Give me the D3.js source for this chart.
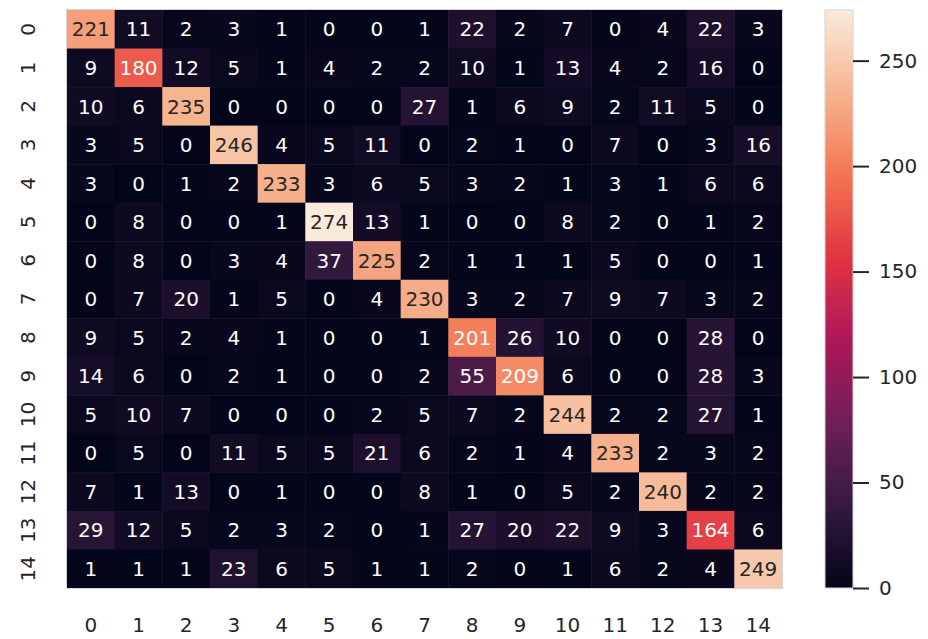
<!DOCTYPE html>
<html>
<head>
<meta charset="utf-8">
<script src="https://cdn.jsdelivr.net/npm/d3@7"></script>
<style>
  body { margin: 0; background: #fff; }
  svg { display: block; font-family: "DejaVu Sans", sans-serif; }
</style>
</head>
<body>
<svg id="chart" width="928" height="639"></svg>
<script>
// Class labels (rows = true, columns = predicted).
var labels = ["0","1","2","3","4","5","6","7","8","9","10","11","12","13","14"];

// Confusion matrix counts, one array per row.
var row0  = [221, 11, 2, 3, 1, 0, 0, 1, 22, 2, 7, 0, 4, 22, 3];
var row1  = [9, 180, 12, 5, 1, 4, 2, 2, 10, 1, 13, 4, 2, 16, 0];
var row2  = [10, 6, 235, 0, 0, 0, 0, 27, 1, 6, 9, 2, 11, 5, 0];
var row3  = [3, 5, 0, 246, 4, 5, 11, 0, 2, 1, 0, 7, 0, 3, 16];
var row4  = [3, 0, 1, 2, 233, 3, 6, 5, 3, 2, 1, 3, 1, 6, 6];
var row5  = [0, 8, 0, 0, 1, 274, 13, 1, 0, 0, 8, 2, 0, 1, 2];
var row6  = [0, 8, 0, 3, 4, 37, 225, 2, 1, 1, 1, 5, 0, 0, 1];
var row7  = [0, 7, 20, 1, 5, 0, 4, 230, 3, 2, 7, 9, 7, 3, 2];
var row8  = [9, 5, 2, 4, 1, 0, 0, 1, 201, 26, 10, 0, 0, 28, 0];
var row9  = [14, 6, 0, 2, 1, 0, 0, 2, 55, 209, 6, 0, 0, 28, 3];
var row10 = [5, 10, 7, 0, 0, 0, 2, 5, 7, 2, 244, 2, 2, 27, 1];
var row11 = [0, 5, 0, 11, 5, 5, 21, 6, 2, 1, 4, 233, 2, 3, 2];
var row12 = [7, 1, 13, 0, 1, 0, 0, 8, 1, 0, 5, 2, 240, 2, 2];
var row13 = [29, 12, 5, 2, 3, 2, 0, 1, 27, 20, 22, 9, 3, 164, 6];
var row14 = [1, 1, 1, 23, 6, 5, 1, 1, 2, 0, 1, 6, 2, 4, 249];

var colorbarTicks = [0, 50, 100, 150, 200, 250];

var matrix = [row0, row1, row2, row3, row4, row5, row6, row7,
              row8, row9, row10, row11, row12, row13, row14];

const svg = d3.select("#chart");

// Layout.
const mLeft = 67, mRight = 782, mTop = 10, mBottom = 588;
const cbLeft = 825, cbRight = 853;
const textDark = "#262626";

const cells = [];
matrix.forEach(function(row, i) {
  row.forEach(function(v, j) {
    cells.push({ r: labels[i], c: labels[j], v: v });
  });
});

const vmax = d3.max(cells, d => d.v);

// Scales.
const x = d3.scaleBand().domain(labels).range([mLeft, mRight]);
const y = d3.scaleBand().domain(labels).range([mTop, mBottom]);

// Approximation of seaborn "rocket".
const rocketStops = ["#03051a", "#35193e", "#701f57", "#ad1759",
                     "#e13342", "#f37651", "#f6b48f", "#faebdd"];
const rocket = d3.scaleLinear()
  .domain(rocketStops.map((d, i) => i / (rocketStops.length - 1)))
  .range(rocketStops)
  .interpolate(d3.interpolateRgb);
const color = v => rocket(v / vmax);

// Same rule seaborn uses to pick annotation colour.
function luminance(c) {
  const rgb = d3.rgb(c);
  const lin = [rgb.r, rgb.g, rgb.b].map(function(u) {
    u = u / 255;
    return u <= 0.03928 ? u / 12.92 : Math.pow((u + 0.055) / 1.055, 2.4);
  });
  return 0.2126 * lin[0] + 0.7152 * lin[1] + 0.0722 * lin[2];
}

// Cells.
svg.append("g")
  .selectAll("rect")
  .data(cells)
  .join("rect")
    .attr("x", d => x(d.c))
    .attr("y", d => y(d.r))
    .attr("width", x.bandwidth() + 0.5)
    .attr("height", y.bandwidth() + 0.5)
    .attr("fill", d => color(d.v));

svg.append("rect")
  .attr("x", mLeft - 0.5).attr("y", mTop - 0.5)
  .attr("width", mRight - mLeft + 1).attr("height", mBottom - mTop + 1)
  .attr("fill", "none")
  .attr("stroke", "#d4d4d8")
  .attr("stroke-width", 1);

// Annotations.
svg.append("g")
  .selectAll("text")
  .data(cells)
  .join("text")
    .attr("x", d => x(d.c) + x.bandwidth() / 2)
    .attr("y", d => y(d.r) + y.bandwidth() / 2)
    .attr("dy", "0.36em")
    .attr("text-anchor", "middle")
    .attr("font-size", 20)
    .attr("fill", d => luminance(color(d.v)) > 0.408 ? textDark : "#ffffff")
    .text(d => d.v);

// Axes.
const xAxis = svg.append("g")
  .attr("transform", "translate(0," + mBottom + ")")
  .call(d3.axisBottom(x).tickSize(0).tickPadding(30));
xAxis.select(".domain").remove();
xAxis.selectAll("text")
  .attr("font-size", 20)
  .attr("font-family", "DejaVu Sans")
  .attr("fill", textDark);

const yAxis = svg.append("g")
  .attr("transform", "translate(" + mLeft + ",0)")
  .call(d3.axisLeft(y).tickSize(0));
yAxis.select(".domain").remove();
yAxis.selectAll("text")
  .attr("x", null)
  .attr("dy", "0.36em")
  .attr("text-anchor", "middle")
  .attr("transform", "translate(" + (28 - mLeft) + ",0) rotate(-90)")
  .attr("font-size", 20)
  .attr("font-family", "DejaVu Sans")
  .attr("fill", textDark);

// Colorbar.
const cbScale = d3.scaleLinear().domain([0, vmax]).range([mBottom, mTop]);

const grad = svg.append("defs").append("linearGradient")
  .attr("id", "cbGradient")
  .attr("x1", 0).attr("y1", 1).attr("x2", 0).attr("y2", 0);
grad.selectAll("stop")
  .data(d3.range(0, 1.0001, 0.02))
  .join("stop")
    .attr("offset", d => d)
    .attr("stop-color", d => rocket(d));

svg.append("rect")
  .attr("x", cbLeft).attr("y", mTop)
  .attr("width", cbRight - cbLeft).attr("height", mBottom - mTop)
  .attr("fill", "url(#cbGradient)")
  .attr("stroke", "#d4d4d8")
  .attr("stroke-width", 1);

const cbAxis = svg.append("g")
  .attr("transform", "translate(" + cbRight + ",0)")
  .call(d3.axisRight(cbScale).tickValues(colorbarTicks).tickSize(16).tickPadding(10));
cbAxis.select(".domain").remove();
cbAxis.selectAll("line")
  .attr("stroke", textDark)
  .attr("stroke-width", 2);
cbAxis.selectAll("text")
  .attr("font-size", 20)
  .attr("font-family", "DejaVu Sans")
  .attr("fill", textDark);
</script>
</body>
</html>
